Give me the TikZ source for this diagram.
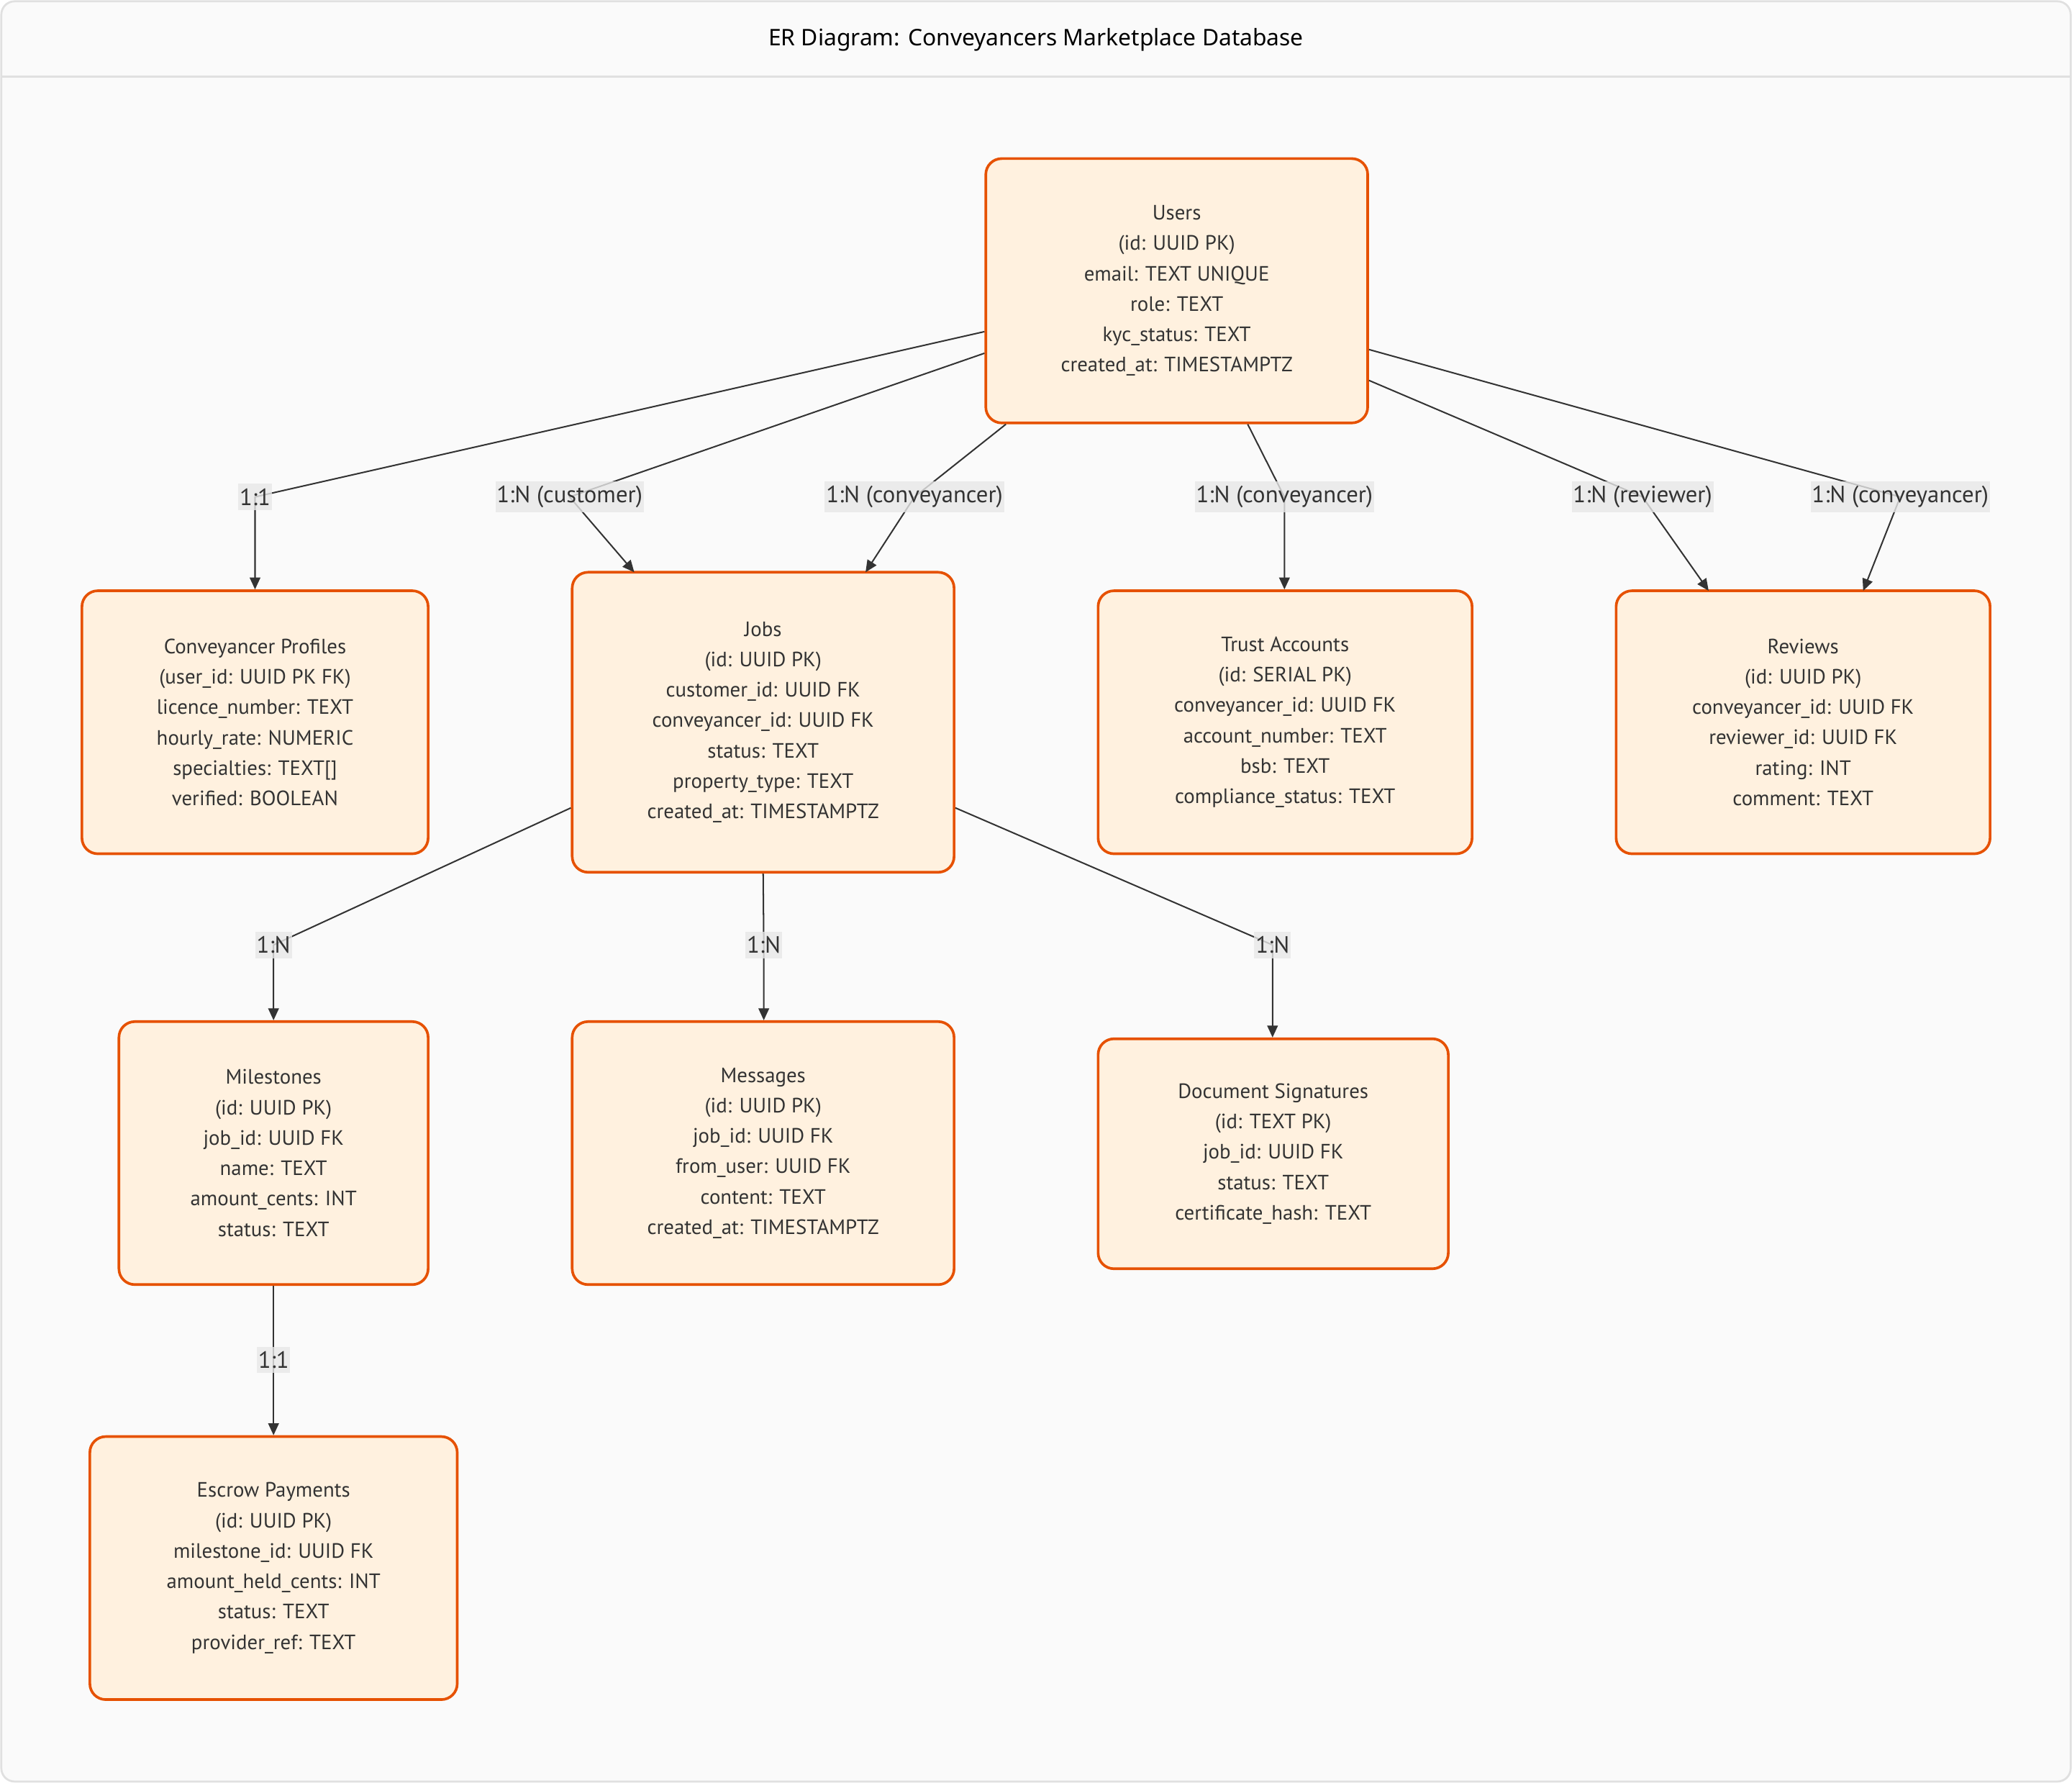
\documentclass[tikz,border=0pt]{standalone}
\usepackage{fontspec}
\setmainfont{PT Sans}
\newfontfamily\titlefont{Noto Sans}
\usetikzlibrary{arrows.meta,calc}

\definecolor{pagebg}{HTML}{FAFAFA}
\definecolor{frameline}{HTML}{E0E0E0}
\definecolor{entityfill}{HTML}{FFF1DF}
\definecolor{entityline}{HTML}{E65100}
\definecolor{inkdark}{HTML}{333333}
\definecolor{labelbg}{HTML}{E8E8E8}

\tikzset{
  entity/.style={draw=entityline, fill=entityfill, line width=2pt,
    rounded corners=12pt, align=center, text=inkdark,
    font=\fontsize{15.7}{23}\selectfont, inner sep=0pt},
  rel/.style={draw=inkdark, line width=1.1pt,
    -{Triangle[length=9pt,width=8pt]}},
  rellabel/.style={fill=labelbg, fill opacity=0.8, text opacity=1,
    text=inkdark, font=\fontsize{17.8}{19}\selectfont,
    inner xsep=1pt, inner ysep=3.5pt},
}

\begin{document}
\begin{tikzpicture}[x=1pt,y=-1pt]
  \useasboundingbox (0,0) rectangle (1568,1349);
  % page frame and title band
  \draw[frameline, fill=pagebg, line width=1.5pt, rounded corners=10pt]
    (1,1) rectangle (1567,1348);
  \draw[frameline, line width=1.5pt] (1,58) -- (1567,58);
  \node[font=\titlefont\fontsize{17.3}{19}\selectfont, text=black] (title) at (784,30)
    {ER Diagram: Conveyancers Marketplace Database};

  % entities
  \node[entity, minimum width=289pt, minimum height=200pt] (users) at (890.5,220)
    {Users\\(id: UUID PK)\\email: TEXT UNIQUE\\role: TEXT\\kyc\_status: TEXT\\created\_at: TIMESTAMPTZ};
  \node[entity, minimum width=262pt, minimum height=199pt] (profiles) at (193,546.5)
    {Conveyancer Profiles\\(user\_id: UUID PK FK)\\licence\_number: TEXT\\hourly\_rate: NUMERIC\\specialties: TEXT[]\\verified: BOOLEAN};
  \node[entity, minimum width=289pt, minimum height=227pt] (jobs) at (577.5,546.5)
    {Jobs\\(id: UUID PK)\\customer\_id: UUID FK\\conveyancer\_id: UUID FK\\status: TEXT\\property\_type: TEXT\\created\_at: TIMESTAMPTZ};
  \node[entity, minimum width=283pt, minimum height=199pt] (trust) at (972.5,546.5)
    {Trust Accounts\\(id: SERIAL PK)\\conveyancer\_id: UUID FK\\account\_number: TEXT\\bsb: TEXT\\compliance\_status: TEXT};
  \node[entity, minimum width=283pt, minimum height=199pt] (reviews) at (1364.5,546.5)
    {Reviews\\(id: UUID PK)\\conveyancer\_id: UUID FK\\reviewer\_id: UUID FK\\rating: INT\\comment: TEXT};
  \node[entity, minimum width=234pt, minimum height=199pt] (milestones) at (207,872.5)
    {Milestones\\(id: UUID PK)\\job\_id: UUID FK\\name: TEXT\\amount\_cents: INT\\status: TEXT};
  \node[entity, minimum width=289pt, minimum height=199pt] (messages) at (577.5,872.5)
    {Messages\\(id: UUID PK)\\job\_id: UUID FK\\from\_user: UUID FK\\content: TEXT\\created\_at: TIMESTAMPTZ};
  \node[entity, minimum width=265pt, minimum height=174pt] (docsig) at (963.5,873)
    {Document Signatures\\(id: TEXT PK)\\job\_id: UUID FK\\status: TEXT\\certificate\_hash: TEXT};
  \node[entity, minimum width=278pt, minimum height=199pt] (escrow) at (207,1186.5)
    {Escrow Payments\\(id: UUID PK)\\milestone\_id: UUID FK\\amount\_held\_cents: INT\\status: TEXT\\provider\_ref: TEXT};

  % label anchor points
  \coordinate (l1) at (193,376);
  \coordinate (l2) at (431,376);
  \coordinate (l3) at (692,376);
  \coordinate (l4) at (972,376);
  \coordinate (l5) at (1243,376);
  \coordinate (l6) at (1438,376);
  \coordinate (l7) at (207,715);
  \coordinate (l8) at (578,715);
  \coordinate (l9) at (963,715);
  \coordinate (l10) at (207,1029);

  % relationships
  \draw[rel] (users.192.5) -- (l1) -- (l1 |- profiles.north);
  \draw[rel] (users.198.4) -- (l2) -- (480,433);
  \draw[rel] (users.218.3) -- (l3) -- (655,433);
  \draw[rel] (users.298.1) -- (l4) -- (l4 |- trust.north);
  \draw[rel] (users.335.8) -- (l5) -- (1293,447);
  \draw[rel] (users.343.8) -- (l6) -- (1410,447);
  \draw[rel] (jobs.204.4) -- (l7) -- (l7 |- milestones.north);
  \draw[rel] (jobs.south) -- (l8) -- (l8 |- messages.north);
  \draw[rel] (jobs.336.3) -- (l9) -- (l9 |- docsig.north);
  \draw[rel] (milestones.south) -- (l10) -- (l10 |- escrow.north);

  % relationship labels
  \node[rellabel] (t1) at (l1) {1:1};
  \node[rellabel] (t2) at (l2) {1:N (customer)};
  \node[rellabel] (t3) at (l3) {1:N (conveyancer)};
  \node[rellabel] (t4) at (l4) {1:N (conveyancer)};
  \node[rellabel] (t5) at (l5) {1:N (reviewer)};
  \node[rellabel] (t6) at (l6) {1:N (conveyancer)};
  \node[rellabel] (t7) at (l7) {1:N};
  \node[rellabel] (t8) at (l8) {1:N};
  \node[rellabel] (t9) at (l9) {1:N};
  \node[rellabel] (t10) at (l10) {1:1};
\end{tikzpicture}
\end{document}
